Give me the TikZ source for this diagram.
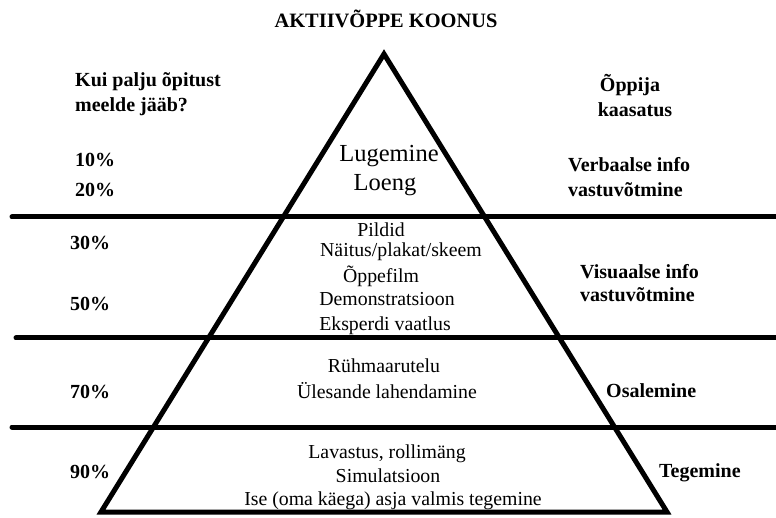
\documentclass[tikz,border=0pt]{standalone}
\usepackage{fontspec}
\setmainfont{Liberation Serif}
\begin{document}
\begin{tikzpicture}[x=1pt,y=-1pt,
  heavy/.style={line width=5pt,line cap=round,line join=miter},
  mid/.style={font=\fontsize{19.8}{23}\selectfont,anchor=base,inner sep=0pt},
  big/.style={font=\fontsize{24.5}{29}\selectfont,anchor=base,inner sep=0pt},
  side/.style={font=\fontsize{20}{23}\selectfont\bfseries,anchor=base west,inner sep=0pt},
  sidec/.style={font=\fontsize{20}{23}\selectfont\bfseries,anchor=base,inner sep=0pt}]
\useasboundingbox (0,0) rectangle (776,518);
\fill[white] (0,0) rectangle (776,518);
% title
\node[sidec,font=\fontsize{20.4}{23}\selectfont\bfseries] (title) at (386,28) {AKTIIVÕPPE KOONUS};
% triangle
\coordinate (apex) at (384,54);
\coordinate (bl) at (101,512);
\coordinate (br) at (667,512);
\draw[heavy,line join=miter,miter limit=20] (apex) -- (br) -- (bl) -- cycle;
% horizontal lines
\coordinate (h1a) at (12,217); \coordinate (h1b) at (780,217);
\coordinate (h2a) at (16,338); \coordinate (h2b) at (780,338);
\coordinate (h3a) at (12,427); \coordinate (h3b) at (780,427);
\draw[heavy] (h1a) -- (h1b);
\draw[heavy] (h2a) -- (h2b);
\draw[heavy] (h3a) -- (h3b);
% center texts
\node[big] (t1) at (389,162) {Lugemine};
\node[big] (t2) at (385,191) {Loeng};
\node[mid] (t3) at (381,237) {Pildid};
\node[mid] (t4) at (401,257) {Näitus/plakat/skeem};
\node[mid] (t5) at (381,283) {Õppefilm};
\node[mid] (t6) at (387,306) {Demonstratsioon};
\node[mid] (t7) at (385,331) {Eksperdi vaatlus};
\node[mid] (t8) at (384,373) {Rühmaarutelu};
\node[mid] (t9) at (387,398) {Ülesande lahendamine};
\node[mid] (t10) at (387,458) {Lavastus, rollimäng};
\node[mid] (t11) at (388,482) {Simulatsioon};
\node[mid] (t12) at (393,505) {Ise (oma käega) asja valmis tegemine};
% left texts
\node[side] (l1) at (75,87) {Kui palju õpitust};
\node[side] (l2) at (75,112) {meelde jääb?};
\node[side] (p10) at (75,167) {10\%};
\node[side] (p20) at (75,197) {20\%};
\node[side] (p30) at (70,250) {30\%};
\node[side] (p50) at (70,311) {50\%};
\node[side] (p70) at (70,398) {70\%};
\node[side] (p90) at (70,478) {90\%};
% right texts
\node[sidec] (r1) at (630,92) {Õppija};
\node[sidec] (r2) at (635,117) {kaasatus};
\node[side] (r3) at (568,172) {Verbaalse info};
\node[side] (r4) at (568,197) {vastuvõtmine};
\node[side] (r5) at (580,279) {Visuaalse info};
\node[side] (r6) at (580,302) {vastuvõtmine};
\node[side] (r7) at (606,397) {Osalemine};
\node[side] (r8) at (659,477) {Tegemine};
\end{tikzpicture}
\end{document}
